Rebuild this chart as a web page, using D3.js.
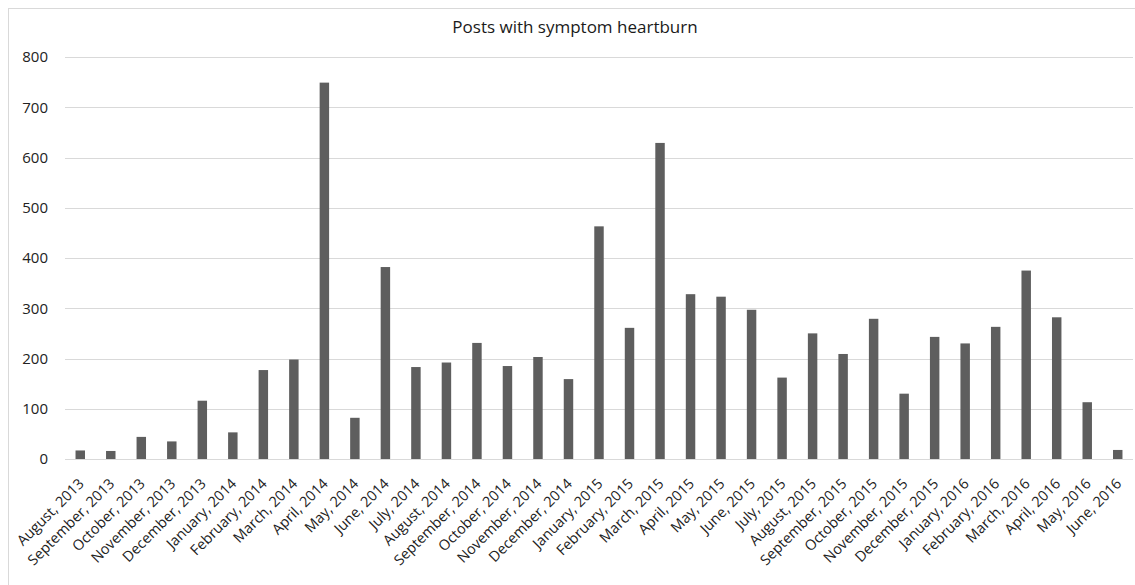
<!DOCTYPE html>
<html>
<head>
<meta charset="utf-8">
<script src="https://cdn.jsdelivr.net/npm/d3@7"></script>
<style>
  body { margin: 0; background: #fff; }
  svg { display: block; font-family: "Open Sans", sans-serif; }
</style>
</head>
<body>
<div id="chart"></div>
<script>
// Posts with symptom heartburn, monthly counts

const months = ["August, 2013", "September, 2013", "October, 2013", "November, 2013", "December, 2013",
    "January, 2014", "February, 2014", "March, 2014", "April, 2014", "May, 2014", "June, 2014",
    "July, 2014", "August, 2014", "September, 2014", "October, 2014", "November, 2014", "December, 2014",
    "January, 2015", "February, 2015", "March, 2015", "April, 2015", "May, 2015", "June, 2015",
    "July, 2015", "August, 2015", "September, 2015", "October, 2015", "November, 2015", "December, 2015",
    "January, 2016", "February, 2016", "March, 2016", "April, 2016", "May, 2016", "June, 2016"];

const posts = [17, 16, 44, 35, 116, 53, 177, 198, 749, 82, 382, 183, 192, 231, 185, 203, 159,
    463, 261, 629, 328, 323, 297, 162, 250, 209, 279, 130, 243, 230, 263, 375, 282, 113, 18];

const yTicks = [0, 100, 200, 300, 400, 500, 600, 700, 800];

const title = "Posts with symptom heartburn";

// Dimensions
const W = 1135, H = 585;
const margin = {top: 57, right: 2, bottom: 126, left: 65};

const svg = d3.select("#chart")
    .append("svg")
    .attr("width", W)
    .attr("height", H);

// chart frame (cropped on right / bottom like the reference)
svg.append("rect")
    .attr("x", 8.5)
    .attr("y", 8.5)
    .attr("width", 1140)
    .attr("height", 600)
    .attr("fill", "#fff")
    .attr("stroke", "#d9d9d9");

const x = d3.scaleBand()
    .domain(months)
    .range([margin.left, W - margin.right])
    .paddingInner(0.69)
    .paddingOuter(0.345);

const y = d3.scaleLinear()
    .domain([0, 800])
    .range([H - margin.bottom, margin.top]);

// gridlines
svg.append("g")
    .selectAll("line")
    .data(yTicks)
    .enter()
    .append("line")
    .attr("x1", margin.left)
    .attr("x2", W - margin.right)
    .attr("y1", d => Math.round(y(d)) + 0.5)
    .attr("y2", d => Math.round(y(d)) + 0.5)
    .attr("stroke", "#d9d9d9")
    .attr("stroke-width", 1);

// y labels
const yAxis = svg.append("g")
    .attr("transform", `translate(${margin.left - 17},0)`)
    .call(d3.axisLeft(y).tickValues(yTicks).tickSize(0).tickPadding(0));
yAxis.select(".domain").remove();
yAxis.selectAll("text")
    .attr("font-family", "Open Sans, sans-serif")
    .attr("font-size", 15)
    .attr("fill", "#222");

// bars
svg.append("g")
    .selectAll("rect")
    .data(posts)
    .enter()
    .append("rect")
    .attr("x", (d, i) => x(months[i]))
    .attr("y", d => y(d))
    .attr("width", x.bandwidth())
    .attr("height", d => y(0) - y(d))
    .attr("fill", "#5e5e5e");

// x labels, rotated
const xAxis = svg.append("g")
    .attr("transform", `translate(0,${y(0)})`)
    .call(d3.axisBottom(x).tickSize(0).tickPadding(0));
xAxis.select(".domain").remove();
xAxis.selectAll("text")
    .attr("font-family", "Open Sans, sans-serif")
    .attr("font-size", 14.5)
    .attr("fill", "#222")
    .attr("text-anchor", "end")
    .attr("y", 0)
    .attr("dy", "0.35em")
    .attr("transform", "translate(1,22) rotate(-45)");

// title
svg.append("text")
    .attr("x", 575)
    .attr("y", 33)
    .attr("text-anchor", "middle")
    .attr("font-size", 17)
    .attr("fill", "#1a1a1a")
    .text(title);
</script>
</body>
</html>
